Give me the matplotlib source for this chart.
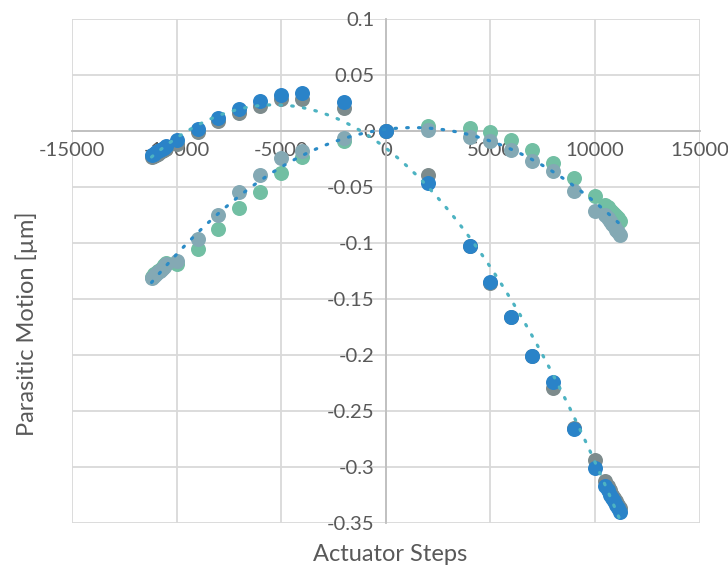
import numpy as np
import matplotlib

matplotlib.use("Agg")
import matplotlib.pyplot as plt  # noqa: E402

plt.rcParams["font.family"] = ["Lato", "DejaVu Sans"]

# step positions shared by every series
x_steps = [-11200, -11100, -11000, -10900, -10800, -10700, -10600, -10500,
           -10000, -9000, -8000, -7000, -6000, -5000, -4000, -2000, 0,
           2000, 4000, 5000, 6000, 7000, 8000, 9000, 10000,
           10500, 10600, 10700, 10800, 10900, 11000, 11100, 11200]

# curve peaking on the negative side
blue_a = [-0.021, -0.020, -0.019, -0.018, -0.017, -0.016, -0.015, -0.013,
          -0.008, 0.002, 0.012, 0.020, 0.027, 0.032, 0.034, 0.026, 0.0,
          -0.046, -0.103, -0.135, -0.166, -0.201, -0.224, -0.266, -0.301,
          -0.317, -0.321, -0.325, -0.328, -0.331, -0.334, -0.337, -0.340]
gray_a = [-0.023, -0.022, -0.021, -0.020, -0.019, -0.018, -0.017, -0.015,
          -0.011, -0.001, 0.009, 0.016, 0.023, 0.029, 0.029, 0.021, 0.0,
          -0.039, -0.103, -0.136, -0.166, -0.201, -0.230, -0.265, -0.294,
          -0.313, -0.317, -0.321, -0.325, -0.328, -0.331, -0.334, -0.337]

# flatter curve peaking on the positive side
green_b = [-0.130, -0.128, -0.127, -0.125, -0.124, -0.122, -0.120, -0.118,
           -0.119, -0.105, -0.087, -0.069, -0.054, -0.037, -0.023, -0.009, 0.0,
           0.005, 0.003, -0.001, -0.008, -0.017, -0.028, -0.042, -0.058,
           -0.066, -0.068, -0.070, -0.072, -0.074, -0.076, -0.078, -0.080]
slate_b = [-0.131, -0.129, -0.128, -0.126, -0.125, -0.123, -0.121, -0.119,
           -0.116, -0.096, -0.075, -0.054, -0.039, -0.024, -0.018, -0.006, 0.0,
           0.001, -0.005, -0.009, -0.017, -0.027, -0.036, -0.053, -0.071,
           -0.075, -0.078, -0.080, -0.083, -0.085, -0.088, -0.090, -0.093]

x_ticks = [-15000, -10000, -5000, 0, 5000, 10000, 15000]
y_ticks = [0.1, 0.05, 0, -0.05, -0.1, -0.15, -0.2, -0.25, -0.3, -0.35]

TEXT = "#595959"
GRID = "#d9d9d9"
AXIS = "#bfbfbf"

fig = plt.figure(figsize=(7.28, 5.70), dpi=100)
ax = fig.add_axes([0.099, 0.083, 0.862, 0.883])

ms = 10.8
ax.plot(x_steps, green_b, "o", ms=ms, color="#72bfa3", mec="none", zorder=3)
ax.plot(x_steps, slate_b, "o", ms=ms, color="#84a9b4", mec="none", zorder=3)
ax.plot(x_steps, gray_a, "o", ms=ms, color="#7d8b8c", mec="none", zorder=3)
ax.plot(x_steps, blue_a, "o", ms=ms, color="#2a83c8", mec="none", zorder=3)

# second-order polynomial trendlines
xs = np.array(x_steps, dtype=float)
xf = np.linspace(xs.min(), xs.max(), 200)
fit_a = np.polyfit(np.r_[xs, xs], np.r_[blue_a, gray_a], 2)
fit_b = np.polyfit(np.r_[xs, xs], np.r_[green_b, slate_b], 2)
ax.plot(xf, np.polyval(fit_a, xf), color="#4db3c2", lw=2.3,
        ls=(0, (0.5, 3.2)), dash_capstyle="round", zorder=4)
ax.plot(xf, np.polyval(fit_b, xf), color="#2b8bc6", lw=2.3,
        ls=(0, (0.5, 3.2)), dash_capstyle="round", zorder=4)

ax.set_xlim(-15000, 15000)
ax.set_ylim(-0.35, 0.1)
ax.set_xticks(x_ticks)
ax.set_yticks(y_ticks)
ax.set_xticklabels([str(v) for v in x_ticks])
ax.set_yticklabels([f"{v:g}" for v in y_ticks])

for s in ("top", "right"):
    ax.spines[s].set_visible(False)
ax.spines["left"].set_position(("data", 0))
ax.spines["bottom"].set_position(("data", 0))
ax.spines["left"].set_color(AXIS)
ax.spines["bottom"].set_color(AXIS)
ax.spines["left"].set_linewidth(1.3)
ax.spines["bottom"].set_linewidth(1.3)

ax.grid(True, color=GRID, lw=1.3, zorder=0)
ax.set_axisbelow(True)
ax.tick_params(length=0, labelsize=14.6, colors=TEXT)
ax.tick_params(axis="x", pad=8)
ax.tick_params(axis="y", pad=8)
for lab in ax.get_xticklabels() + ax.get_yticklabels():
    lab.set_clip_on(False)

fig.text(0.536, 0.028, "Actuator Steps", ha="center", va="center",
         fontsize=17, color=TEXT)
fig.text(0.037, 0.432, "Parasitic Motion [µm]", ha="center", va="center",
         rotation=90, fontsize=17, color=TEXT)

fig.savefig("out.png", dpi=100)
